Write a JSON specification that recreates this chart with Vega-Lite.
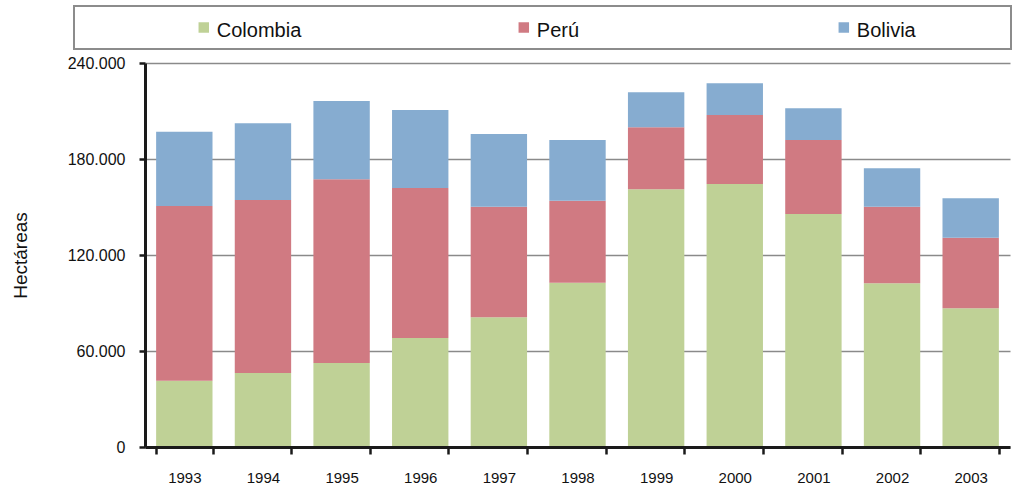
{
  "$schema": "https://vega.github.io/schema/vega-lite/v6.json",
  "padding": {"left": 10, "top": 5, "right": 0, "bottom": 0},
  "background": "white",
  "config": {
    "font": "Liberation Sans",
    "view": {"stroke": null}
  },
  "spacing": 5,
  "vconcat": [
    {
      "spacing": 0,
      "hconcat": [
        {
          "width": 63,
          "height": 43,
          "view": {"stroke": null},
          "data": {"values": []},
          "mark": "point"
        },
        {
          "width": 937,
          "height": 43,
          "view": {"stroke": "#8c8c8c", "strokeWidth": 2},
          "data": {"values": [{"pais": "Colombia"}, {"pais": "Perú"}, {"pais": "Bolivia"}]},
          "encoding": {
            "x": {
              "field": "pais",
              "type": "nominal",
              "sort": ["Colombia", "Perú", "Bolivia"],
              "scale": {"type": "point", "padding": 0.464, "align": 0.437},
              "axis": null
            }
          },
          "layer": [
            {
              "mark": {"type": "square", "size": 110, "filled": true, "opacity": 1},
              "encoding": {
                "color": {
                  "field": "pais",
                  "type": "nominal",
                  "scale": {"domain": ["Colombia", "Perú", "Bolivia"], "range": ["#bfd196", "#d07a82", "#86acd0"]},
                  "legend": null
                }
              }
            },
            {
              "mark": {"type": "text", "align": "left", "baseline": "middle", "dx": 13, "dy": 3, "fontSize": 20, "color": "#111111"},
              "encoding": {"text": {"field": "pais"}}
            }
          ]
        }
      ]
    },
    {
      "spacing": 0,
      "hconcat": [
        {
          "width": 1,
          "height": 1,
          "view": {"stroke": null},
          "data": {"values": []},
          "mark": "point"
        },
        {
          "width": 865,
          "height": 384,
          "data": {
            "values": [
              {"anio": "1993", "pais": "Colombia", "ha": 41400},
              {"anio": "1993", "pais": "Perú", "ha": 109200},
              {"anio": "1993", "pais": "Bolivia", "ha": 46400},
              {"anio": "1994", "pais": "Colombia", "ha": 46250},
              {"anio": "1994", "pais": "Perú", "ha": 108150},
              {"anio": "1994", "pais": "Bolivia", "ha": 47900},
              {"anio": "1995", "pais": "Colombia", "ha": 52500},
              {"anio": "1995", "pais": "Perú", "ha": 114800},
              {"anio": "1995", "pais": "Bolivia", "ha": 48950},
              {"anio": "1996", "pais": "Colombia", "ha": 68100},
              {"anio": "1996", "pais": "Perú", "ha": 93800},
              {"anio": "1996", "pais": "Bolivia", "ha": 48700},
              {"anio": "1997", "pais": "Colombia", "ha": 81100},
              {"anio": "1997", "pais": "Perú", "ha": 69100},
              {"anio": "1997", "pais": "Bolivia", "ha": 45400},
              {"anio": "1998", "pais": "Colombia", "ha": 102700},
              {"anio": "1998", "pais": "Perú", "ha": 51200},
              {"anio": "1998", "pais": "Bolivia", "ha": 38000},
              {"anio": "1999", "pais": "Colombia", "ha": 161100},
              {"anio": "1999", "pais": "Perú", "ha": 38700},
              {"anio": "1999", "pais": "Bolivia", "ha": 21900},
              {"anio": "2000", "pais": "Colombia", "ha": 164400},
              {"anio": "2000", "pais": "Perú", "ha": 43100},
              {"anio": "2000", "pais": "Bolivia", "ha": 19800},
              {"anio": "2001", "pais": "Colombia", "ha": 145600},
              {"anio": "2001", "pais": "Perú", "ha": 46300},
              {"anio": "2001", "pais": "Bolivia", "ha": 19800},
              {"anio": "2002", "pais": "Colombia", "ha": 102300},
              {"anio": "2002", "pais": "Perú", "ha": 47900},
              {"anio": "2002", "pais": "Bolivia", "ha": 24000},
              {"anio": "2003", "pais": "Colombia", "ha": 86700},
              {"anio": "2003", "pais": "Perú", "ha": 44100},
              {"anio": "2003", "pais": "Bolivia", "ha": 24600}
            ]
          },
          "transform": [
            {"calculate": "indexof(['Colombia', 'Perú', 'Bolivia'], datum.pais)", "as": "orden"}
          ],
          "mark": {"type": "bar"},
          "encoding": {
            "x": {
              "field": "anio",
              "type": "ordinal",
              "scale": {"paddingInner": 0.283, "paddingOuter": 0.1415},
              "axis": {
                "title": null,
                "labelAngle": 0,
                "tickBand": "extent",
                "labelFontSize": 15,
                "labelPadding": 16,
                "labelColor": "#111111",
                "tickSize": 7,
                "tickWidth": 2.5,
                "tickColor": "#1a1a1a",
                "domainColor": "#1a1a1a",
                "domainWidth": 3,
                "grid": false,
                "zindex": 1
              }
            },
            "y": {
              "field": "ha",
              "type": "quantitative",
              "stack": "zero",
              "scale": {"domain": [0, 240000], "nice": false},
              "axis": {
                "title": "Hectáreas",
                "values": [0, 60000, 120000, 180000, 240000],
                "labelExpr": "replace(format(datum.value, ','), regexp(',', 'g'), '.')",
                "labelFontSize": 16,
                "labelPadding": 14,
                "labelColor": "#111111",
                "tickSize": 6,
                "tickWidth": 2.5,
                "tickColor": "#1a1a1a",
                "domainColor": "#1a1a1a",
                "domainWidth": 3,
                "grid": true,
                "gridColor": "#8a8a8a",
                "gridWidth": 1.5,
                "titleFontSize": 19,
                "titleFontWeight": "normal",
                "titleColor": "#111111",
                "titlePadding": 37
              }
            },
            "order": {"field": "orden", "type": "quantitative", "sort": "ascending"},
            "color": {
              "field": "pais",
              "type": "nominal",
              "scale": {"domain": ["Colombia", "Perú", "Bolivia"], "range": ["#bfd196", "#d07a82", "#86acd0"]},
              "legend": null
            }
          }
        }
      ]
    }
  ]
}
